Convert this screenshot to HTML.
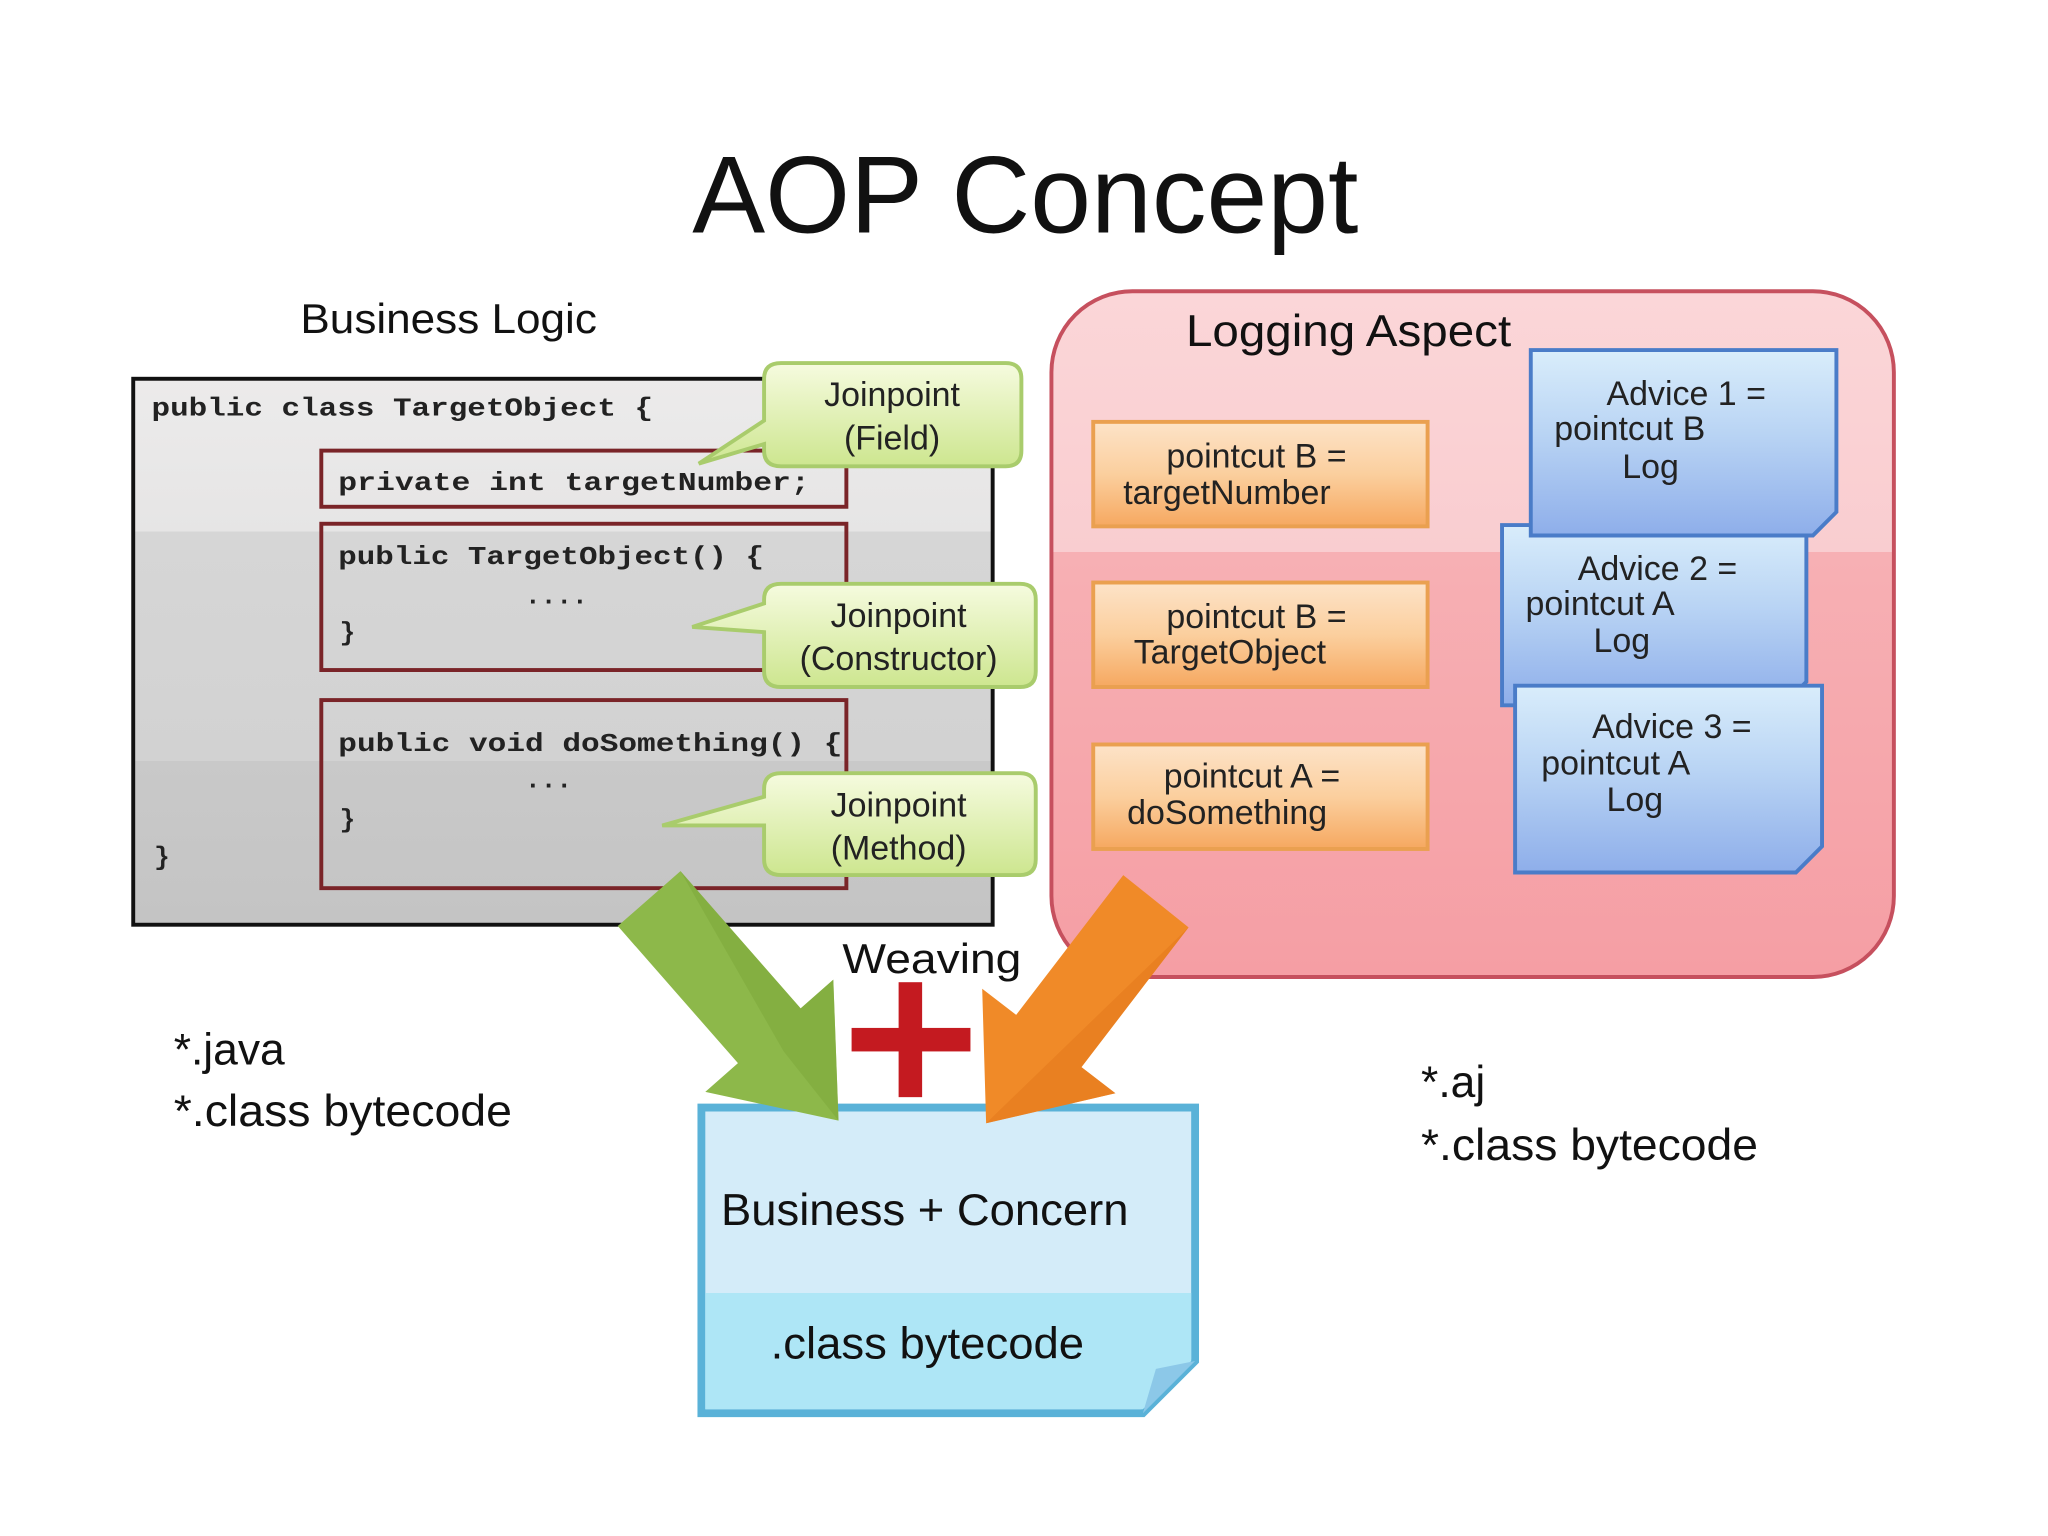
<!DOCTYPE html>
<html><head><meta charset="utf-8"><style>
html,body{margin:0;padding:0;background:#fff;}
svg{display:block;}
text{font-family:"Liberation Sans",sans-serif;fill:#111;}
.m{font-family:"Liberation Mono",monospace;font-weight:bold;font-size:20px;fill:#222;}
.s{font-size:26px;fill:#222;}
</style></head><body>
<svg width="2048" height="1536" viewBox="0 0 1568 1176" preserveAspectRatio="none" xmlns="http://www.w3.org/2000/svg">
<defs>
<linearGradient id="gc" x1="0" y1="0" x2="0" y2="1">
<stop offset="0" stop-color="#ecebeb"/><stop offset="0.28" stop-color="#e6e5e5"/><stop offset="0.28" stop-color="#d6d6d6"/><stop offset="0.7" stop-color="#d2d2d2"/><stop offset="0.7" stop-color="#c9c9c9"/><stop offset="1" stop-color="#c4c4c4"/></linearGradient>
<linearGradient id="gg" x1="0" y1="0" x2="0" y2="1"><stop offset="0" stop-color="#f6fbdf"/><stop offset="1" stop-color="#cde68f"/></linearGradient>
<linearGradient id="gp" x1="0" y1="0" x2="0" y2="1"><stop offset="0" stop-color="#fbd6d8"/><stop offset="0.38" stop-color="#f9cdd0"/><stop offset="0.38" stop-color="#f7b0b4"/><stop offset="1" stop-color="#f59ea4"/></linearGradient>
<linearGradient id="go" x1="0" y1="0" x2="0" y2="1"><stop offset="0" stop-color="#fde3c8"/><stop offset="0.5" stop-color="#fbcf9e"/><stop offset="1" stop-color="#f6a860"/></linearGradient>
<linearGradient id="gb" x1="0" y1="0" x2="0" y2="1"><stop offset="0" stop-color="#d9edfb"/><stop offset="0.45" stop-color="#b9d4f4"/><stop offset="1" stop-color="#8eaeea"/></linearGradient>
</defs>
<rect width="1568" height="1176" fill="#fff"/>
<text x="530" y="178" font-size="84" textLength="510" lengthAdjust="spacingAndGlyphs">AOP Concept</text>
<text x="230" y="255" font-size="32" fill="#222" textLength="227" lengthAdjust="spacingAndGlyphs">Business Logic</text>

<rect x="102" y="290" width="658" height="418" fill="url(#gc)" stroke="#111" stroke-width="3"/>
<text class="m" x="116" y="318" textLength="384" lengthAdjust="spacingAndGlyphs">public class TargetObject {</text>
<rect x="246" y="345" width="402" height="43" fill="none" stroke="#7a2428" stroke-width="3"/>
<text class="m" x="259" y="375" textLength="361" lengthAdjust="spacingAndGlyphs">private int targetNumber;</text>
<rect x="246" y="401" width="402" height="112" fill="none" stroke="#7a2428" stroke-width="3"/>
<text class="m" x="259" y="432" textLength="326" lengthAdjust="spacingAndGlyphs">public TargetObject() {</text>
<text class="m" x="402" y="462">....</text>
<text class="m" x="260" y="490">}</text>
<rect x="246" y="536" width="402" height="144" fill="none" stroke="#7a2428" stroke-width="3"/>
<text class="m" x="259" y="575" textLength="386" lengthAdjust="spacingAndGlyphs">public void doSomething() {</text>
<text class="m" x="402" y="603">...</text>
<text class="m" x="260" y="633">}</text>
<text class="m" x="118" y="662">}</text>

<g stroke="#a9cc6c" stroke-width="3" fill="url(#gg)">
<path d="M598,278 H770 Q782,278 782,290 V345 Q782,357 770,357 H598 Q585,357 585,345 V340 L535,355 L585,322 V290 Q585,278 598,278Z"/>
<path d="M598,447 H781 Q793,447 793,459 V514 Q793,526 781,526 H598 Q585,526 585,514 V484 L530,480 L585,462 V459 Q585,447 598,447Z"/>
<path d="M598,592 H781 Q793,592 793,604 V658 Q793,670 781,670 H598 Q585,670 585,658 V632 L507,632 L585,610 V604 Q585,592 598,592Z"/>
</g>
<text class="s" x="683" y="311" text-anchor="middle">Joinpoint</text>
<text class="s" x="683" y="344" text-anchor="middle">(Field)</text>
<text class="s" x="688" y="480" text-anchor="middle">Joinpoint</text>
<text class="s" x="688" y="513" text-anchor="middle">(Constructor)</text>
<text class="s" x="688" y="625" text-anchor="middle">Joinpoint</text>
<text class="s" x="688" y="658" text-anchor="middle">(Method)</text>

<rect x="805" y="223" width="645" height="525" rx="62" fill="url(#gp)" stroke="#c6505e" stroke-width="3"/>
<text x="908" y="265" font-size="34" fill="#222" textLength="249" lengthAdjust="spacingAndGlyphs">Logging Aspect</text>

<g fill="url(#go)" stroke="#eaa050" stroke-width="3">
<rect x="837" y="323" width="256" height="80"/>
<rect x="837" y="446" width="256" height="80"/>
<rect x="837" y="570" width="256" height="80"/>
</g>
<text class="s" x="893" y="358" font-size="23">pointcut  B =</text>
<text class="s" x="860" y="386" font-size="23">targetNumber</text>
<text class="s" x="893" y="481" font-size="23">pointcut  B =</text>
<text class="s" x="868" y="508" font-size="23">TargetObject</text>
<text class="s" x="891" y="603" font-size="23">pointcut  A =</text>
<text class="s" x="863" y="631" font-size="23">doSomething</text>

<g fill="url(#gb)" stroke="#4a7cc8" stroke-width="3">
<path d="M1150,402 H1383 V522 L1365,540 H1150Z"/>
<path d="M1160,525 H1395 V648 L1375,668 H1160Z"/>
<path d="M1172,268 H1406 V392 L1388,410 H1172Z"/>
</g>
<text class="s" x="1230" y="310" font-size="23">Advice 1  =</text>
<text class="s" x="1190" y="337" font-size="23">pointcut B</text>
<text class="s" x="1242" y="366" font-size="23">Log</text>
<text class="s" x="1208" y="444" font-size="23">Advice 2  =</text>
<text class="s" x="1168" y="471" font-size="23">pointcut A</text>
<text class="s" x="1220" y="499" font-size="23">Log</text>
<text class="s" x="1219" y="565" font-size="23">Advice 3  =</text>
<text class="s" x="1180" y="593" font-size="23">pointcut A</text>
<text class="s" x="1230" y="621" font-size="23">Log</text>

<path d="M537,848 H915 V1042 L875,1082 H537Z" fill="#d4ecf9" stroke="#5ab2d8" stroke-width="6"/>
<path d="M540,990 H912 V1042 L875,1079 H540Z" fill="#aee6f6"/>
<path d="M915,1042 L875,1082 L885,1048Z" fill="#8cc8e8"/>
<text x="552" y="938" font-size="34" fill="#1a1a1a" textLength="312" lengthAdjust="spacingAndGlyphs">Business + Concern</text>
<text x="590" y="1040" font-size="34" fill="#111" textLength="240" lengthAdjust="spacingAndGlyphs">.class bytecode</text>

<polygon points="473,709 521,667 613,772 638,750 642,858 540,836 565,814" fill="#8db84a"/>
<polygon points="521,667 613,772 638,750 642,858 600,805" fill="#7fa83c" opacity="0.6"/>
<polygon points="910,710 860,670 778,777 752,757 755,860 854,837 828,817" fill="#f08a28"/>
<polygon points="910,710 828,817 854,837 755,860" fill="#e47a1c" opacity="0.6"/>

<text x="645" y="745" font-size="32" fill="#222" textLength="137" lengthAdjust="spacingAndGlyphs">Weaving</text>
<rect x="688" y="752" width="18" height="88" fill="#c41a20"/>
<rect x="652" y="787" width="91" height="18" fill="#c41a20"/>

<text x="133" y="815" font-size="34">*.java</text>
<text x="133" y="862" font-size="34" textLength="259" lengthAdjust="spacingAndGlyphs">*.class bytecode</text>
<text x="1088" y="840" font-size="34">*.aj</text>
<text x="1088" y="888" font-size="34" textLength="258" lengthAdjust="spacingAndGlyphs">*.class bytecode</text>
</svg>
</body></html>
